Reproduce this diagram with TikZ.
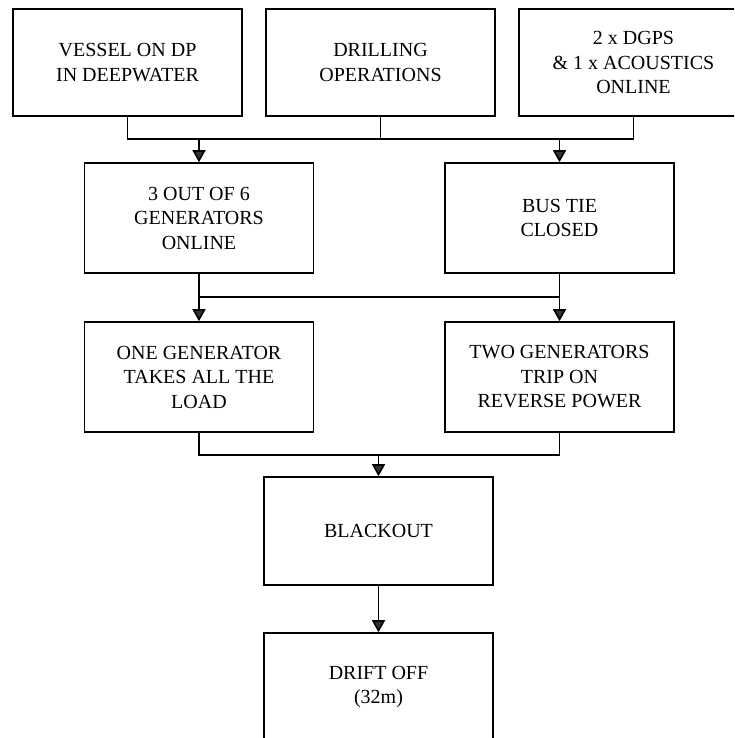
\documentclass[tikz,border=0pt]{standalone}
\usepackage{fontspec}
\setmainfont{Liberation Serif}
\usetikzlibrary{arrows.meta}
\begin{document}
\begin{tikzpicture}[x=1pt,y=-1pt,
  box/.style={draw=black,line width=1.6pt,fill=white,minimum height=#1,inner sep=0pt,
    align=center,font=\fontsize{20}{24.5}\selectfont},
  box/.default=107pt,
  wbox/.style={box=#1,minimum width=229pt},
  conn/.style={draw=black,line width=1.6pt},
  arr/.style={conn,-{Triangle[width=13pt,length=12pt,fill=black!80]}}]
\useasboundingbox (0,0) rectangle (734,738);
\clip (0,0) rectangle (734,738);
\fill[white] (0,0) rectangle (734,738);
% row 1
\node[wbox=107pt] (v)  at (127.5,62.5) {VESSEL ON DP\\IN DEEPWATER};
\node[wbox=107pt] (dr) at (380.5,62.5) {DRILLING\\OPERATIONS};
\node[wbox=107pt] (dg) at (633.5,62.5) {2 x DGPS\\\& 1 x ACOUSTICS\\ONLINE};
% row 2
\node[wbox=110pt] (g3) at (199,218) {3 OUT OF 6\\GENERATORS\\ONLINE};
\node[wbox=110pt] (bt) at (559.5,218) {BUS TIE\\CLOSED};
% row 3
\node[wbox=110pt] (og) at (199,377) {ONE GENERATOR\\TAKES ALL THE\\LOAD};
\node[wbox=110pt] (tg) at (559.5,377) {TWO GENERATORS\\TRIP ON\\REVERSE POWER};
% row 4, 5
\node[wbox=108pt] (bo) at (378.5,531) {BLACKOUT};
\node[wbox=108pt] (df) at (378.5,687) {DRIFT OFF\\(32m)};
% junctions
\coordinate (j1) at (199,139);
\coordinate (j2) at (559.5,139);
\coordinate (j3) at (199,297);
\coordinate (j4) at (559.5,297);
\coordinate (j5) at (378.5,455);
% connectors row 1 -> 2
\draw[conn] (v.south) |- (j1) -- (j2) -| (dg.south);
\draw[conn] (dr.south) -- (dr.south |- j1);
\draw[arr] (j1) -- (g3.north);
\draw[arr] (j2) -- (bt.north);
% row 2 -> 3
\draw[conn] (g3.south) -- (j3) -- (j4) -- (bt.south);
\draw[arr] (j3) -- (og.north);
\draw[arr] (j4) -- (tg.north);
% row 3 -> 4
\draw[conn] (og.south) |- (j5) -| (tg.south);
\draw[arr] (j5) -- (bo.north);
% row 4 -> 5
\draw[arr] (bo.south) -- (df.north);
\end{tikzpicture}
\end{document}
